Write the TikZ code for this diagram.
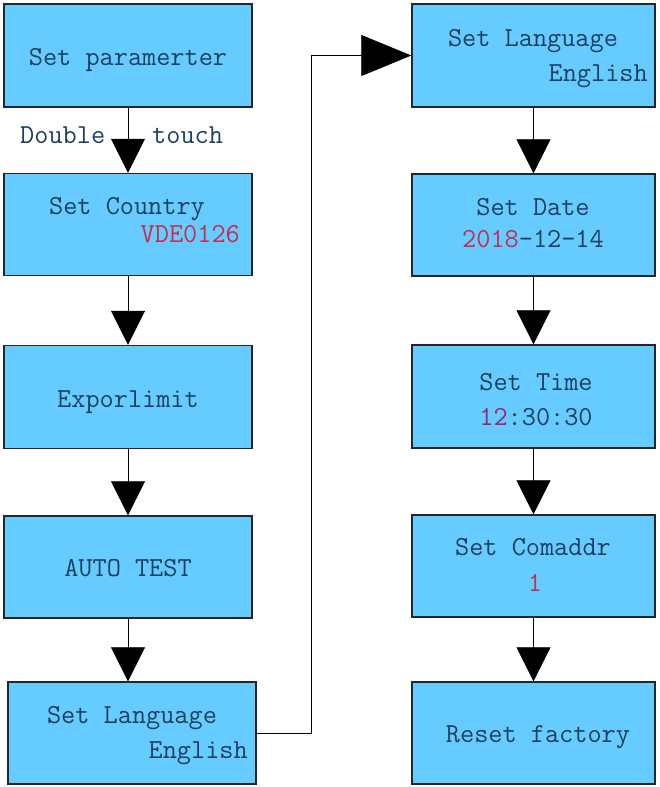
\documentclass[tikz,border=0pt]{standalone}
\usetikzlibrary{arrows.meta}
\definecolor{boxfill}{HTML}{66CCFF}
\definecolor{txtblue}{HTML}{1B3F5E}
\definecolor{txtred}{HTML}{C2304F}
\begin{document}
\begin{tikzpicture}[x=1pt,y=-1pt,
  box/.style={draw=black!85,line width=1.4pt,fill=boxfill,rectangle,inner sep=0pt},
  txt/.style={anchor=base,inner sep=0pt,text=txtblue,font=\fontsize{27.5}{30}\selectfont\ttfamily},
  rtxt/.style={txt,anchor=base east},
  arr/.style={draw=black,line width=0.8pt,-{Triangle[width=34pt,length=34pt]}},
  harr/.style={draw=black,line width=0.8pt,-{Triangle[width=41pt,length=50pt]}}]
\useasboundingbox (0,0) rectangle (659,787);
% boxes
\node[box,minimum width=248pt,minimum height=103pt] (L1) at (128,55.5) {};
\node[box,minimum width=248pt,minimum height=102pt] (L2) at (128,224.5) {};
\node[box,minimum width=248pt,minimum height=103pt] (L3) at (128,397) {};
\node[box,minimum width=248pt,minimum height=102pt] (L4) at (128,567) {};
\node[box,minimum width=248pt,minimum height=102pt] (L5) at (132,733) {};
\node[box,minimum width=243pt,minimum height=103pt] (R1) at (533.5,55.5) {};
\node[box,minimum width=243pt,minimum height=102pt] (R2) at (533.5,225) {};
\node[box,minimum width=243pt,minimum height=103pt] (R3) at (533.5,396.5) {};
\node[box,minimum width=243pt,minimum height=102pt] (R4) at (533.5,566) {};
\node[box,minimum width=243pt,minimum height=102pt] (R5) at (533.5,733) {};
% texts
\node[txt] (t1) at (128,65) {Set paramerter};
\node[txt,anchor=base west] (dbl) at (20,143) {Double};
\node[txt,anchor=base west] (tch) at (152,143) {touch};
\node[txt] (t2) at (127,214) {Set Country};
\node[rtxt,text=txtred] (t2b) at (240,242) {VDE0126};
\node[txt] (t3) at (128,407) {Exporlimit};
\node[txt] (t4) at (128,576) {AUTO TEST};
\node[txt] (t5) at (132,723) {Set Language};
\node[rtxt] (t5b) at (248,758) {English};
\node[txt] (r1) at (533,46) {Set Language};
\node[rtxt] (r1b) at (648,81) {English};
\node[txt] (r2) at (533,215) {Set Date};
\node[txt] (r2b) at (533,247) {\textcolor{txtred}{2018}-12-14};
\node[txt] (r3) at (536,390) {Set Time};
\node[txt] (r3b) at (536,425) {\textcolor{txtred!80!blue}{12}:30:30};
\node[txt] (r4) at (533,555) {Set Comaddr};
\node[txt,text=txtred] (r4b) at (535,591) {1};
\node[txt] (r5) at (538,742) {Reset factory};
% connectors
\draw[arr] (L1.south) -- (L2.north);
\draw[arr] (L2.south) -- (L3.north);
\draw[arr] (L3.south) -- (L4.north);
\draw[arr] (L4.south) -- (L4.south |- L5.north);
\coordinate (bend) at (311,733);
\draw[harr] (L5.east) -- (bend) |- (R1.west);
\draw[arr] (R1.south) -- (R2.north);
\draw[arr] (R2.south) -- (R3.north);
\draw[arr] (R3.south) -- (R4.north);
\draw[arr] (R4.south) -- (R5.north);
\end{tikzpicture}
\end{document}
